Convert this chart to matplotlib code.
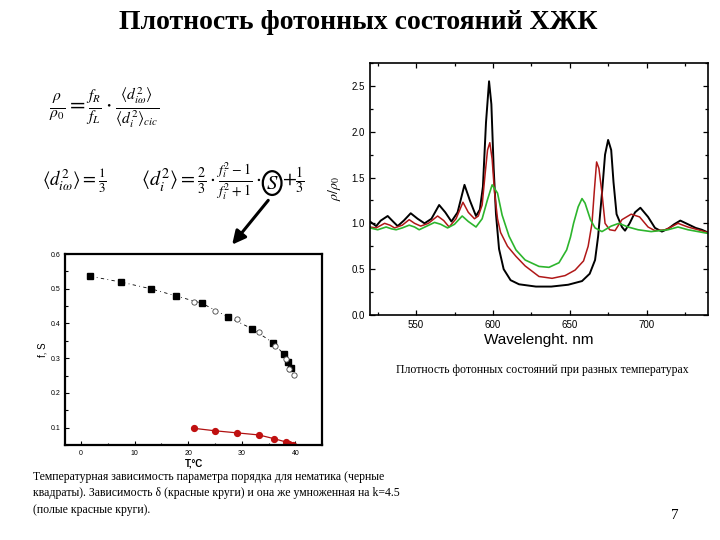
"""Slide: photon density of states in cholesteric liquid crystals."""

import matplotlib
matplotlib.use("Agg")
import matplotlib.pyplot as plt
from matplotlib.patches import Ellipse
from matplotlib.ticker import MultipleLocator, FormatStrFormatter

plt.rcParams["mathtext.fontset"] = "stix"
plt.rcParams["font.family"] = ["Liberation Sans", "DejaVu Sans"]

# --- order parameter vs temperature (left chart) ---
t_squares = [1.7, 7.5, 13.0, 17.8, 22.6, 27.4, 31.9, 35.8, 37.9, 38.7, 39.2]
s_squares = [0.536, 0.519, 0.500, 0.479, 0.458, 0.419, 0.385, 0.345, 0.311, 0.290, 0.272]
t_open = [21.1, 25.0, 29.1, 33.2, 36.2, 38.2, 38.9, 39.8]
s_open = [0.461, 0.436, 0.412, 0.374, 0.335, 0.297, 0.268, 0.253]
t_red = [21.1, 25.0, 29.1, 33.2, 36.1, 38.2, 38.9, 39.6]
d_red = [0.098, 0.091, 0.085, 0.079, 0.068, 0.059, 0.053, 0.050]

# --- normalized photon DOS spectra (right chart) ---
wl_black = [520, 524, 527, 531.5, 535, 538, 542, 546.5, 551, 555.5,
            560, 565, 569, 573, 577, 581.5, 585, 589, 591.5, 593.5,
            595.5, 597.5, 599, 600.5, 602, 604, 607, 611.5, 617, 628,
            638, 649, 658, 663, 666.5, 668.5, 671, 673, 675, 677,
            678.5, 680.5, 684, 686, 689, 692.5, 696, 701, 705.5, 710,
            714, 718, 722, 727, 732, 736, 740]
dos_black = [1.02, 0.97, 1.03, 1.08, 1.02, 0.97, 1.03, 1.11, 1.05, 1.0,
             1.05, 1.2, 1.12, 1.02, 1.12, 1.42, 1.25, 1.08, 1.15, 1.4,
             2.1, 2.55, 2.3, 1.6, 1.1, 0.72, 0.5, 0.38, 0.335, 0.31,
             0.31, 0.33, 0.37, 0.45, 0.6, 0.86, 1.33, 1.75, 1.91, 1.8,
             1.45, 1.1, 0.96, 0.92, 1.0, 1.12, 1.17, 1.07, 0.95, 0.91,
             0.94, 0.99, 1.03, 0.99, 0.95, 0.93, 0.9]
wl_red = [520, 524, 529.5, 533, 536, 541, 545.5, 549, 553, 558,
          564, 568, 571.5, 576, 580.5, 584, 588, 590.5, 593, 595,
          596.5, 598, 599.5, 601, 603, 605, 609.5, 615, 621, 630,
          638.5, 647, 653.5, 659, 662, 664.5, 666, 667.5, 669, 671,
          673, 676, 679.5, 684, 690, 695.5, 701, 705.5, 712, 716,
          720.5, 727, 733.5, 740]
dos_red = [0.96, 0.95, 1.0, 0.98, 0.95, 0.98, 1.04, 1.0, 0.97, 1.0,
           1.08, 1.03, 0.96, 1.05, 1.23, 1.12, 1.05, 1.08, 1.2, 1.55,
           1.8, 1.88, 1.7, 1.35, 1.05, 0.9, 0.75, 0.64, 0.535, 0.42,
           0.40, 0.43, 0.49, 0.59, 0.75, 1.0, 1.35, 1.67, 1.6, 1.33,
           1.0, 0.93, 0.92, 1.04, 1.1, 1.07, 0.96, 0.92, 0.93, 0.96,
           1.0, 0.96, 0.93, 0.9]
wl_green = [520, 525, 530.5, 534, 537, 541, 545.5, 549, 552, 557,
            562, 566, 570.5, 575, 580, 584, 589, 593, 596.5, 599.5,
            603, 606, 610.5, 615, 621, 630, 636.5, 643, 648, 650.5,
            652.5, 655.5, 658, 660, 663.5, 666.5, 671, 677, 682, 688,
            694.5, 703, 714, 720.5, 727, 733.5, 740]
dos_green = [0.95, 0.93, 0.96, 0.94, 0.93, 0.95, 0.98, 0.96, 0.93, 0.97,
             1.01, 0.99, 0.95, 0.99, 1.08, 1.02, 0.96, 1.05, 1.26, 1.42,
             1.33, 1.09, 0.86, 0.71, 0.60, 0.53, 0.52, 0.57, 0.71, 0.85,
             1.0, 1.18, 1.27, 1.22, 1.04, 0.95, 0.91, 0.97, 1.0, 0.96,
             0.93, 0.91, 0.93, 0.96, 0.93, 0.91, 0.89]

fig = plt.figure(figsize=(7.2, 5.4), dpi=100)
serif = ["Liberation Serif", "DejaVu Serif"]

fig.text(0.497, 0.958, "Плотность фотонных состояний ХЖК", ha="center", va="center",
         family=serif, fontsize=20, fontweight="bold")

# formulas
fig.text(0.068, 0.80,
         r"$\frac{\rho}{\rho_0}=\frac{f_R}{f_L}\cdot\frac{\langle d_{i\omega}^2\rangle}{\langle d_i^2\rangle_{cic}}$",
         ha="left", va="center", fontsize=16)
fig.text(0.058, 0.665, r"$\langle d_{i\omega}^2\rangle=\frac{1}{3}$",
         ha="left", va="center", fontsize=13.5)
fig.text(0.364, 0.665, r"$\langle d_i^2\rangle=\frac{2}{3}\cdot\frac{f_i^2-1}{f_i^2+1}\cdot$",
         ha="right", va="center", fontsize=14.5)
fig.text(0.378, 0.661, r"$S$", ha="center", va="center", fontsize=15)
fig.text(0.392, 0.665, r"$+\frac{1}{3}$", ha="left", va="center", fontsize=14.5)
fig.add_artist(Ellipse((0.378, 0.661), 0.026, 0.044, transform=fig.transFigure,
                       fill=False, ec="black", lw=1.6))
fig.add_artist(matplotlib.patches.FancyArrowPatch(
    (0.375, 0.633), (0.32, 0.543), transform=fig.transFigure,
    arrowstyle="-|>", mutation_scale=20, lw=2.2, color="black"))

# left chart: order parameter
ax1 = fig.add_axes([0.0903, 0.1759, 0.357, 0.3537])
ax1.plot(t_squares, s_squares, color="black", lw=0.6, ls=(0, (4, 4, 1, 4)),
         marker="s", ms=4.2, mfc="black", mec="black")
ax1.plot(t_open, s_open, color="black", lw=0, marker="o", ms=3.8,
         mfc="white", mec="#444444", mew=0.6)
ax1.plot(t_red, d_red, color="#B01010", lw=0.9, marker="o", ms=4.2,
         mfc="#C01010", mec="#C01010")
ax1.set_xlim(-3, 45)
ax1.set_ylim(0.05, 0.6)
ax1.xaxis.set_major_locator(MultipleLocator(10))
ax1.xaxis.set_minor_locator(MultipleLocator(5))
ax1.yaxis.set_major_locator(MultipleLocator(0.1))
ax1.yaxis.set_minor_locator(MultipleLocator(0.05))
ax1.tick_params(which="both", direction="in", labelsize=5, width=0.8)
ax1.tick_params(which="major", length=3)
ax1.tick_params(which="minor", length=1.8)
for sp in ax1.spines.values():
    sp.set_linewidth(1.6)
ax1.set_xlabel("T,°C", fontsize=7, fontweight="bold", labelpad=1)
ax1.set_ylabel("f, S", fontsize=7, labelpad=2)

# right chart: spectra
ax2 = fig.add_axes([0.5139, 0.4167, 0.4694, 0.4667])
ax2.plot(wl_black, dos_black, color="black", lw=1.4)
ax2.plot(wl_red, dos_red, color="#B01818", lw=1.1)
ax2.plot(wl_green, dos_green, color="#2DB52D", lw=1.2)
ax2.set_xlim(520, 740)
ax2.set_ylim(0, 2.75)
ax2.xaxis.set_major_locator(MultipleLocator(50))
ax2.xaxis.set_minor_locator(MultipleLocator(25))
ax2.yaxis.set_major_locator(MultipleLocator(0.5))
ax2.yaxis.set_minor_locator(MultipleLocator(0.25))
ax2.yaxis.set_major_formatter(FormatStrFormatter("%.1f"))
ax2.tick_params(which="both", direction="in", top=True, right=True,
                labelsize=7, width=0.9)
ax2.tick_params(which="major", length=3.5)
ax2.tick_params(which="minor", length=2)
for sp in ax2.spines.values():
    sp.set_linewidth(1.2)
ax2.set_xlabel("Wavelenght. nm", fontsize=11, labelpad=2)
ax2.set_ylabel(r"$\rho/\rho_0$", fontsize=10, fontweight="bold", labelpad=6)

# captions
fig.text(0.046, 0.128,
         "Температурная зависимость параметра порядка для нематика (черные\n"
         "квадраты). Зависимость δ (красные круги) и она же умноженная на k=4.5\n"
         "(полые красные круги).",
         ha="left", va="top", family=serif, fontsize=8.5, linespacing=1.5)
fig.text(0.55, 0.315, "Плотность фотонных состояний при разных температурах",
         ha="left", va="center", family=serif, fontsize=8.5)
fig.text(0.937, 0.045, "7", ha="center", va="center", family=serif, fontsize=11)

fig.savefig("out.png", dpi=100)
